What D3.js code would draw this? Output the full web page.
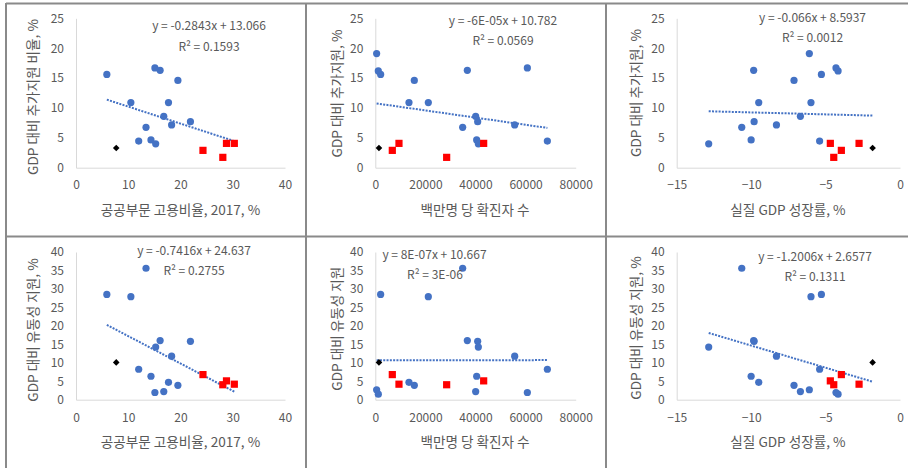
<!DOCTYPE html>
<html><head><meta charset="utf-8">
<script src="https://cdn.jsdelivr.net/npm/d3@7/dist/d3.min.js"></script>
<style>
html,body{margin:0;padding:0;background:#fff;}
svg{display:block;}
text{font-family:"Noto Sans CJK KR","Noto Sans",sans-serif;fill:#595959;}
</style></head>
<body>
<svg id="c" width="908" height="468"></svg>
<script>
// ---- data (one entry per country) ----
const group     = ["b","b","b","b","b","b","b","b","b","b","b","b","b","b","b","r","r","r","r","k"];
const pubEmp    = [null,null,5.9,17.7,19.5,10.5,16.1,15.1,16.8,21.9,13.4,18.3,14.35,15.25,12.0,24.3,28.1,28.8,30.3,7.7];
const cases     = [532,1198,2130,13444,15574,21165,36739,60699,40067,40865,34875,55641,40466,41132,68686,6789,28486,43261,9451,1464];
const growth    = [-6.09,-4.16,-5.28,-9.49,-7.12,-5.98,-9.83,-4.3,-6.69,-9.8,-10.63,-8.3,-10.0,-12.85,-5.4,-3.94,-4.45,-4.68,-2.75,-1.84];
const fiscal    = [19.1,16.2,15.6,10.9,14.6,10.9,16.3,16.7,8.6,7.7,6.75,7.15,4.65,4.0,4.46,2.9,1.73,4.07,4.07,3.3];
const liquidity = [2.7,1.5,28.5,4.7,3.9,27.9,16.0,1.95,2.2,15.8,35.6,11.8,6.35,14.25,8.25,6.8,4.05,5.1,4.2,10.1];

const xTicksEmp    = [0,10,20,30,40];
const xTicksCases  = [0,20000,40000,60000,80000];
const xTicksGrowth = [-15,-10,-5,0];
const yTicksFiscal = [0,5,10,15,20,25];
const yTicksLiq    = [0,5,10,15,20,25,30,35,40];

const xTitles = ["공공부문 고용비율, 2017, %","백만명 당 확진자 수","실질 GDP 성장률, %"];
const yTitles = [["GDP 대비 추가지원 비율, %","GDP 대비 추가지원, %","GDP 대비 추가지원, %"],
                 ["GDP 대비 유동성 지원, %","GDP 대비 유동성 지원","GDP 대비 유동성 지원, %"]];
const slopes     = [[-0.2843,-6e-5,-0.066],[-0.7416,8e-7,-1.2006]];
const intercepts = [[13.066,10.782,8.5937],[24.637,10.667,2.6577]];
const eqTexts = [["y = -0.2843x + 13.066","y = -6E-05x + 10.782","y = -0.066x + 8.5937"],
                 ["y = -0.7416x + 24.637","y = 8E-07x + 10.667","y = -1.2006x + 2.6577"]];
const r2Texts = [["R² = 0.1593","R² = 0.0569","R² = 0.0012"],
                 ["R² = 0.2755","R² = 3E-06","R² = 0.1311"]];

// ---- layout ----
const svg = d3.select("#c");
const xVars = [pubEmp, cases, growth];
const yVars = [fiscal, liquidity];
const xDomains = [[0,40],[0,80000],[-15,0]];
const xRanges = [[76,285],[375.3,575.7],[676.7,900]];
const xTickSets = [xTicksEmp, xTicksCases, xTicksGrowth];
const yDomains = [[0,25],[0,40]];
const yRanges = [[167.7,18.3],[399.7,252]];
const yTickSets = [yTicksFiscal, yTicksLiq];
const yTitleX = [33,337,636];
const yTitleY = [[97,93.5,93],[330,328.7,328]];
const xTitleCx = [180.5,475,788];
const xTitleY = [210,442];
const tickLabelY = [185,418];
const eqPos = [[[209,26],[503,20.7],[812.5,17.3]],[[194,250.3],[434.5,254.3],[815,257]]];
const r2Pos = [[[209,46.7],[503,40.7],[812.5,37.7]],[[194,271],[435,274.7],[815,276.3]]];

// borders
const bc = "#8a8a8a";
[[6,3.5,908,3.5],[6,236.5,908,236.5],[6,3,6,468],[306,3,306,468],[606,3,606,468]].forEach(l=>{
  svg.append("line").attr("x1",l[0]).attr("y1",l[1]).attr("x2",l[2]).attr("y2",l[3])
    .attr("stroke",bc).attr("stroke-width",2);
});

for (let r=0;r<2;r++){
  for (let c=0;c<3;c++){
    const xs = d3.scaleLinear().domain(xDomains[c]).range(xRanges[c]);
    const ys = d3.scaleLinear().domain(yDomains[r]).range(yRanges[r]);
    const g = svg.append("g");
    // axes lines
    const xAxis = d3.axisBottom(xs).tickValues(xTickSets[c]).tickSize(0).tickPadding(0).tickFormat(d3.format("d"));
    const gx = g.append("g").attr("transform",`translate(0,${ys(0)})`).call(xAxis);
    gx.select(".domain").attr("stroke","#d9d9d9").attr("stroke-width",1);
    gx.selectAll("text").attr("y",tickLabelY[r]-ys(0)).attr("dy","0.35em")
      .style("font-size","12px").attr("fill","#595959");
    const yAxis = d3.axisLeft(ys).tickValues(yTickSets[r]).tickSize(0).tickPadding(12);
    const gy = g.append("g").attr("transform",`translate(${xs(xDomains[c][0])},0)`).call(yAxis);
    gy.select(".domain").attr("stroke","#d9d9d9").attr("stroke-width",1);
    gy.selectAll("text").style("font-size","12px").attr("fill","#595959");
    g.selectAll(".tick line").remove();

    // titles
    g.append("text").attr("x",xTitleCx[c]).attr("y",xTitleY[r]).attr("dy","0.35em")
      .attr("text-anchor","middle").style("font-size","13.6px").text(xTitles[c]);
    g.append("text").attr("transform",`translate(${yTitleX[c]},${yTitleY[r][c]}) rotate(-90)`)
      .attr("dy","0.35em").attr("text-anchor","middle").style("font-size","13.6px").text(yTitles[r][c]);

    // points
    const pts = group.map((gr,i)=>({g:gr,x:xVars[c][i],y:yVars[r][i]})).filter(p=>p.x!==null && p.y!==null);
    const xmin = d3.min(pts,p=>p.x), xmax = d3.max(pts,p=>p.x);
    const m = slopes[r][c], b = intercepts[r][c];
    g.append("line").attr("x1",xs(xmin)).attr("y1",ys(m*xmin+b))
      .attr("x2",xs(xmax)).attr("y2",ys(m*xmax+b))
      .attr("stroke","#4472C4").attr("stroke-width",2).attr("stroke-dasharray","2 1.3");

    pts.filter(p=>p.g==="b").forEach(p=>{
      g.append("circle").attr("cx",xs(p.x)).attr("cy",ys(p.y)).attr("r",3.6).attr("fill","#4472C4");
    });
    pts.filter(p=>p.g==="r").forEach(p=>{
      g.append("rect").attr("x",xs(p.x)-3.6).attr("y",ys(p.y)-3.6).attr("width",7.2).attr("height",7.2).attr("fill","#FF0000");
    });
    pts.filter(p=>p.g==="k").forEach(p=>{
      const cx=xs(p.x), cy=ys(p.y), s=3.3;
      g.append("path").attr("d",`M${cx},${cy-s}L${cx+s},${cy}L${cx},${cy+s}L${cx-s},${cy}Z`).attr("fill","#000");
    });

    // equation labels
    g.append("text").attr("x",eqPos[r][c][0]).attr("y",eqPos[r][c][1]).attr("dy","0.35em")
      .attr("text-anchor","middle").style("font-size","12px").text(eqTexts[r][c]);
    g.append("text").attr("x",r2Pos[r][c][0]).attr("y",r2Pos[r][c][1]).attr("dy","0.35em")
      .attr("text-anchor","middle").style("font-size","12px").text(r2Texts[r][c]);
  }
}
</script>
</body></html>
